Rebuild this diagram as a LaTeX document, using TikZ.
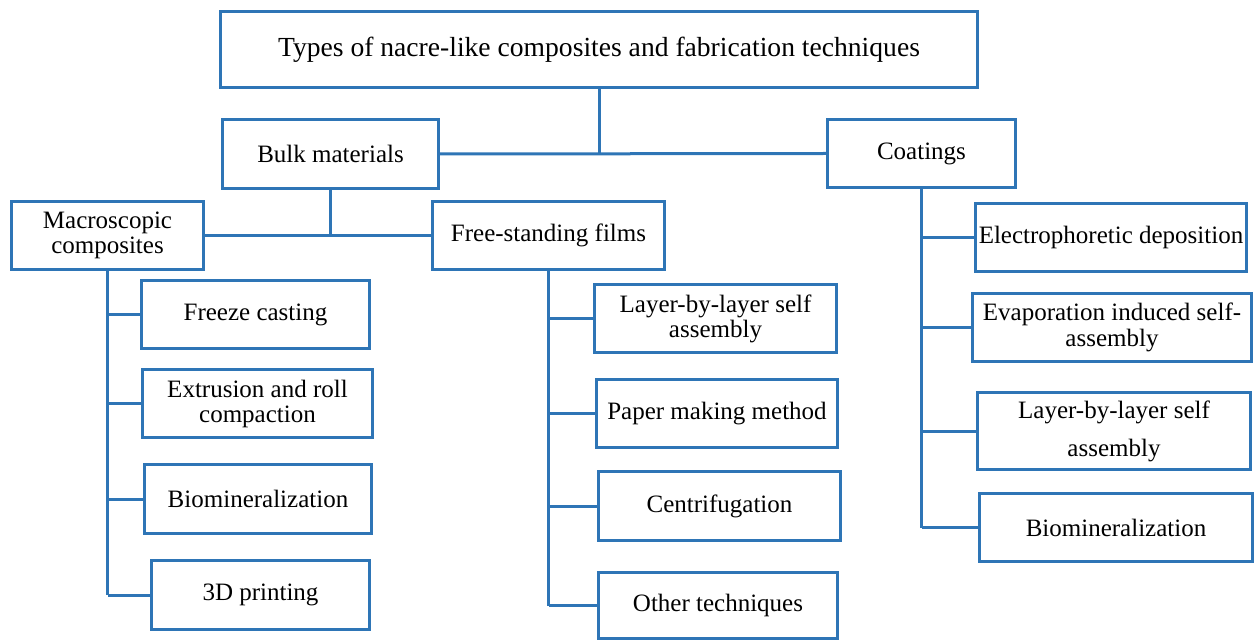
\documentclass[tikz,border=0pt]{standalone}
\usepackage{fontspec}
\setmainfont{Liberation Serif}
\definecolor{boxblue}{RGB}{46,117,182}

\begin{document}
\begin{tikzpicture}[
        x=0.5pt, y=-0.5pt,
        line width=1.5pt,
        box/.style={draw=boxblue, rectangle, align=center, inner sep=0pt, font=\fontsize{12.5}{12.5}\selectfont},
        wh/.style 2 args={minimum width={(#1-3)*0.5pt}, minimum height={(#2-3)*0.5pt}},
        link/.style={draw=boxblue},
    ]
    \useasboundingbox (0,0) rectangle (1257,641);

        % Draw the top of the tree
        \node[box, wh={760}{79}, font=\fontsize{13.8}{16}\selectfont] (title) at (599,49.5) {Types of nacre-like composites and fabrication techniques};
        \node[box, wh={219}{72}] (bulk) at (330.5,154) {Bulk materials};
        \node[box, wh={191}{71}] (coat) at (921.5,153.5) {Coatings};
        \node[box, wh={195}{71}] (macro) at (107.5,235.5) {Macroscopic\\composites};
        \node[box, wh={235}{71}] (films) at (548.5,235.5) {Free-standing films};

        % Draw the technique boxes of each branch
        \foreach \name / \x / \y / \w / \h / \txt in {
                1/255.5/314.5/231/71/{Freeze casting},
                2/257.5/403.5/233/71/{Extrusion and roll\\compaction},
                3/258/499/230/72/{Biomineralization},
                4/260.5/595/221/72/{3D printing}}
            \node[box, wh={\w}{\h}] (macro-\name) at (\x,\y) {\txt};

        \foreach \name / \x / \y / \w / \h / \txt in {
                1/715.5/318.5/245/71/{Layer-by-layer self\\assembly},
                2/717/413.5/244/71/{Paper making method},
                3/719.5/506/245/72/{Centrifugation},
                4/718/605.5/242/69/{Other techniques}}
            \node[box, wh={\w}{\h}] (films-\name) at (\x,\y) {\txt};

        \foreach \name / \x / \y / \w / \h / \txt in {
                1/1111/237.5/274/71/{Electrophoretic deposition},
                2/1112/327.5/282/71/{Evaporation induced self-\\[0.5pt]assembly},
                3/1114/431/276/80/{Layer-by-layer self\\[6.5pt]assembly},
                4/1116/527.5/276/71/{Biomineralization}}
            \node[box, wh={\w}{\h}] (coat-\name) at (\x,\y) {\txt};

        % Connect the title with the two kinds of composites
        \draw[link] (title.south) -- (title.south |- bulk.east);
        \draw[link] (bulk.east) -- (coat.west);

        % Connect bulk materials with its two groups
        \draw[link] (bulk.south) -- (bulk.south |- macro.east);
        \draw[link] (macro.east) -- (films.west);

        % Trunk lines down each branch, with a stub to every box
        \foreach \branch in {macro, films, coat} {
            \draw[link] (\branch.south) -- (\branch.south |- \branch-4.west);
            \foreach \i in {1,...,4}
                \draw[link] (\branch.south |- \branch-\i.west) -- (\branch-\i.west);
        }
    \end{tikzpicture}
\end{document}
